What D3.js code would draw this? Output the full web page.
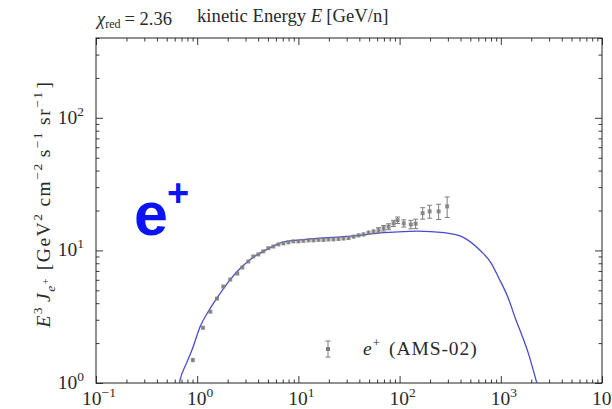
<!DOCTYPE html>
<html>
<head>
<meta charset="utf-8">
<script src="https://cdn.jsdelivr.net/npm/d3@7"></script>
<style>
  body { margin: 0; background: #fff; }
  svg { display: block; }
  text { font-family: "Liberation Serif", "DejaVu Serif", serif; fill: #2a2a2a; }
</style>
</head>
<body>
<svg id="chart" width="612" height="409"></svg>
<script>
// AMS-02 positron spectrum, E^3 J  [GeV^2 cm^-2 s^-1 sr^-1]
const energy = [0.905, 1.14, 1.35, 1.57, 1.81, 2.12, 2.49, 2.79, 3.20, 3.58,
  4.02, 4.50, 5.05, 5.65, 6.34, 7.10, 7.96, 8.91, 10.0, 11.2,
  12.6, 14.1, 15.8, 17.7, 19.8, 22.2, 24.9, 27.9, 31.3, 35.1,
  39.3, 44.0, 49.3, 55.3, 61.9, 69.5, 77.8, 87.2, 95.5, 110,
  129, 144, 169, 198, 243, 295];
const flux = [1.49, 2.61, 3.45, 4.33, 5.34, 6.03, 6.69, 7.43, 8.25, 9.01,
  9.33, 9.83, 10.4, 10.7, 11.1, 11.3, 11.5, 11.7, 11.7, 11.8,
  11.9, 11.9, 12.0, 12.0, 12.1, 12.1, 12.2, 12.3, 12.4, 12.7,
  13.0, 13.2, 13.6, 13.9, 14.2, 14.7, 15.1, 16.0, 16.9, 16.0,
  15.7, 15.9, 19.1, 19.7, 19.7, 21.5];
const fluxErr = [0.06, 0.08, 0.09, 0.1, 0.12, 0.13, 0.14, 0.15, 0.16, 0.17,
  0.18, 0.18, 0.19, 0.2, 0.2, 0.21, 0.21, 0.22, 0.22, 0.23,
  0.24, 0.25, 0.26, 0.27, 0.28, 0.3, 0.32, 0.34, 0.37, 0.4,
  0.44, 0.48, 0.53, 0.58, 0.64, 0.7, 0.78, 0.85, 0.95, 1.0,
  1.15, 1.3, 1.9, 2.2, 2.6, 3.8];

// propagated model spectrum
const modelEnergy = [0.62, 0.68, 0.78, 0.89, 1.07, 1.3, 1.57, 2.12, 2.7, 3.35,
  4.9, 7.2, 10.5, 15.3, 32.7, 70, 150, 275, 430, 634,
  797, 955, 1180, 1409, 1650, 1893, 2270, 2600];
const modelFlux = [0.75, 1.07, 1.4, 1.78, 2.67, 3.5, 4.38, 6.03, 7.4, 8.55,
  10.2, 11.6, 12.0, 12.3, 12.8, 13.6, 14.0, 13.6, 12.5, 9.9,
  8.1, 6.2, 4.4, 3.0, 2.2, 1.63, 1.0, 0.7];

const xExponents = [-1, 0, 1, 2, 3, 4];
const yExponents = [0, 1, 2];
const chiRed = "2.36";
const legendLabel = "(AMS-02)";

const svg = d3.select("#chart");
const X0 = 96, X1 = 602, Y0 = 383, Y1 = 38;
const FS = 19.5, SUP = 13.5;

const x = d3.scaleLog().domain([0.1, 1e4]).range([X0, X1]);
const y = d3.scaleLog().domain([1, 400]).range([Y0, Y1]);

svg.append("rect").attr("width", 612).attr("height", 409).attr("fill", "#fff");

svg.append("defs").append("clipPath").attr("id", "plotArea")
  .append("rect").attr("x", X0).attr("y", Y1).attr("width", X1 - X0).attr("height", Y0 - Y1);

// tick sets
const xMajor = xExponents.map(e => Math.pow(10, e));
const xMinor = [];
for (let e = -1; e < 4; e++) for (let k = 2; k <= 9; k++) xMinor.push(k * Math.pow(10, e));
const yMajor = yExponents.map(e => Math.pow(10, e));
const yMinor = [];
for (let e = 0; e < 3; e++) for (let k = 2; k <= 9; k++) {
  const v = k * Math.pow(10, e);
  if (v <= 400) yMinor.push(v);
}

function tickAxis(gen, vals, size, transform) {
  const g = svg.append("g").attr("transform", transform)
    .call(gen.tickValues(vals).tickSize(size).tickSizeOuter(0).tickFormat(""));
  g.select(".domain").remove();
  g.selectAll(".tick line").attr("stroke", "#222").attr("stroke-width", 0.9);
  return g;
}
// inward-pointing ticks on all four sides
tickAxis(d3.axisBottom(x), xMajor, -7, `translate(0,${Y0})`);
tickAxis(d3.axisBottom(x), xMinor, -3.5, `translate(0,${Y0})`);
tickAxis(d3.axisTop(x), xMajor, -7, `translate(0,${Y1})`);
tickAxis(d3.axisTop(x), xMinor, -3.5, `translate(0,${Y1})`);
tickAxis(d3.axisLeft(y), yMajor, -7, `translate(${X0},0)`);
tickAxis(d3.axisLeft(y), yMinor, -3.5, `translate(${X0},0)`);
tickAxis(d3.axisRight(y), yMajor, -7, `translate(${X1},0)`);
tickAxis(d3.axisRight(y), yMinor, -3.5, `translate(${X1},0)`);

// frame
svg.append("rect").attr("x", X0).attr("y", Y1).attr("width", X1 - X0).attr("height", Y0 - Y1)
  .attr("fill", "none").attr("stroke", "#222").attr("stroke-width", 1);

// power-of-ten labels
function powLabel(sel, e) {
  sel.append("tspan").text("10");
  sel.append("tspan").attr("dy", -8).attr("font-size", SUP)
    .text(e < 0 ? "\u2212" + Math.abs(e) : String(e));
}
xExponents.forEach(e => {
  const t = svg.append("text").attr("x", x(Math.pow(10, e)) + 3).attr("y", 405)
    .attr("text-anchor", "middle").attr("font-size", FS);
  powLabel(t, e);
});
yExponents.forEach(e => {
  const t = svg.append("text").attr("x", 84).attr("y", y(Math.pow(10, e)) + 6)
    .attr("text-anchor", "end").attr("font-size", FS);
  powLabel(t, e);
});

// model curve
const line = d3.line()
  .x(d => x(d[0])).y(d => y(d[1]))
  .curve(d3.curveMonotoneX);
svg.append("path")
  .datum(d3.zip(modelEnergy, modelFlux))
  .attr("clip-path", "url(#plotArea)")
  .attr("d", line)
  .attr("fill", "none").attr("stroke", "#4a4ad0").attr("stroke-width", 1.3);

// data points with error bars
const pts = d3.zip(energy, flux, fluxErr);
const gData = svg.append("g").attr("clip-path", "url(#plotArea)");
const grey = "#7d7d7d";
const pg = gData.selectAll("g").data(pts).join("g");
pg.append("line")
  .attr("x1", d => x(d[0])).attr("x2", d => x(d[0]))
  .attr("y1", d => y(d[1] + d[2])).attr("y2", d => y(Math.max(d[1] - d[2], 0.5)))
  .attr("stroke", grey).attr("stroke-width", 1);
pg.filter(d => d[2] / d[1] > 0.045).each(function (d) {
  const g = d3.select(this);
  [d[1] + d[2], d[1] - d[2]].forEach(v => {
    g.append("line").attr("x1", x(d[0]) - 2.5).attr("x2", x(d[0]) + 2.5)
      .attr("y1", y(v)).attr("y2", y(v)).attr("stroke", grey).attr("stroke-width", 1);
  });
});
pg.append("rect")
  .attr("x", d => x(d[0]) - 2).attr("y", d => y(d[1]) - 2)
  .attr("width", 4).attr("height", 4)
  .attr("fill", grey).attr("opacity", 0.85);

// legend
const lx = 328, ly = 349;
svg.append("line").attr("x1", lx).attr("x2", lx).attr("y1", ly - 8).attr("y2", ly + 8)
  .attr("stroke", grey).attr("stroke-width", 1);
[ly - 8, ly + 8].forEach(v => svg.append("line").attr("x1", lx - 2.5).attr("x2", lx + 2.5)
  .attr("y1", v).attr("y2", v).attr("stroke", grey).attr("stroke-width", 1));
svg.append("rect").attr("x", lx - 2).attr("y", ly - 2).attr("width", 4).attr("height", 4)
  .attr("fill", grey);
const lt = svg.append("text").attr("x", 363).attr("y", 355).attr("font-size", FS)
  .attr("letter-spacing", 0.9);
lt.append("tspan").attr("font-style", "italic").text("e");
lt.append("tspan").attr("dy", -8).attr("font-size", SUP).text("+");
lt.append("tspan").attr("dy", 8).attr("dx", 8).text(legendLabel);

// title row
const chi = svg.append("text").attr("x", 97).attr("y", 25).attr("font-size", 18.5);
chi.append("tspan").attr("font-style", "italic").text("\u03c7");
chi.append("tspan").attr("dy", 3).attr("font-size", 12).text("red");
chi.append("tspan").attr("dy", -3).attr("dx", 4).text("= " + chiRed);

const ttl = svg.append("text").attr("x", 197).attr("y", 22).attr("font-size", 18.7);
ttl.append("tspan").text("kinetic Energy ");
ttl.append("tspan").attr("font-style", "italic").text("E");
ttl.append("tspan").attr("dx", 4).text("[GeV/n]");

// y axis label
const yl = svg.append("text")
  .attr("transform", "translate(50,204) rotate(-90)")
  .attr("text-anchor", "middle").attr("font-size", FS)
  .attr("letter-spacing", 1.5);
yl.append("tspan").attr("font-style", "italic").text("E");
yl.append("tspan").attr("dy", -8).attr("font-size", SUP).text("3");
yl.append("tspan").attr("dy", 8).attr("dx", 4).attr("font-style", "italic").text("J");
yl.append("tspan").attr("dy", 5).attr("font-size", SUP).attr("font-style", "italic").text("e");
yl.append("tspan").attr("dy", -6).attr("font-size", 10).text("+");
yl.append("tspan").attr("dy", 1).attr("dx", 7).text("[GeV");
yl.append("tspan").attr("dy", -8).attr("font-size", SUP).text("2");
yl.append("tspan").attr("dy", 8).attr("dx", 6).text("cm");
yl.append("tspan").attr("dy", -8).attr("font-size", SUP).text("\u22122");
yl.append("tspan").attr("dy", 8).attr("dx", 5).text("s");
yl.append("tspan").attr("dy", -8).attr("font-size", SUP).text("\u22121");
yl.append("tspan").attr("dy", 8).attr("dx", 6).text("sr");
yl.append("tspan").attr("dy", -8).attr("font-size", SUP).text("\u22121");
yl.append("tspan").attr("dy", 8).attr("dx", 2).text("]");

// particle tag
const tag = svg.append("text").attr("x", 134).attr("y", 235)
  .style("font-family", "'Liberation Sans', Arial, sans-serif")
  .attr("font-weight", "bold").attr("font-size", 61).style("fill", "#0a14f5");
tag.append("tspan").text("e");
tag.append("tspan").attr("dy", -29).attr("dx", -1).attr("font-size", 38).text("+");
</script>
</body>
</html>
